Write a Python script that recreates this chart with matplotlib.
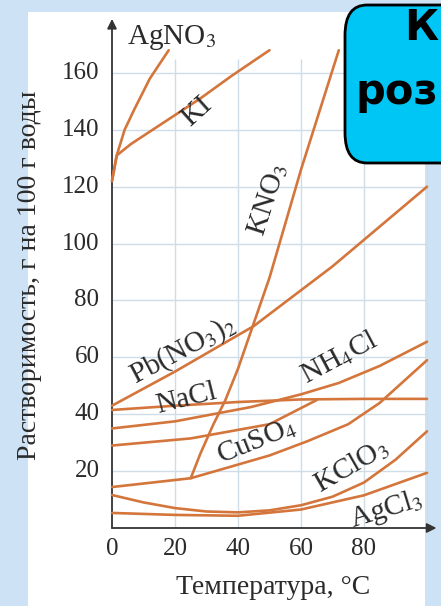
import matplotlib
matplotlib.use("Agg")
import matplotlib.pyplot as plt
from matplotlib.patches import Rectangle, FancyBboxPatch

# solubility curves, g per 100 g water
temp_agno3 = [0, 1.5, 4, 7, 12, 18]
sol_agno3 = [122, 131, 140, 147, 158, 168]
temp_ki = [0, 1.5, 6, 17, 28, 38, 50]
sol_ki = [122, 131, 135, 143, 151, 159, 168]
temp_kno3 = [25, 28, 32, 36, 40, 45, 50, 55, 60, 66, 72]
sol_kno3 = [17.5, 26, 36, 45, 56, 72, 88, 107, 126, 147, 168]
temp_pb = [0, 20, 45, 70, 100]
sol_pb = [43, 55, 71, 92, 120]
temp_nacl = [0, 20, 40, 60, 80, 100]
sol_nacl = [41.5, 43, 44.3, 45.2, 45.4, 45.4]
temp_nh4cl = [0, 20, 44, 60, 72, 85, 100]
sol_nh4cl = [35, 37.5, 42.5, 47, 51, 57, 65.5]
temp_extra = [0, 25, 50, 65]
sol_extra = [29, 31.5, 36.5, 45]
temp_cuso4 = [0, 25, 50, 62, 75, 85, 100]
sol_cuso4 = [14.4, 17.5, 25.5, 30.5, 36.5, 44, 59]
temp_kclo3 = [0, 10, 20, 30, 40, 50, 60, 70, 80, 90, 100]
sol_kclo3 = [11.6, 9, 7, 5.8, 5.5, 6.2, 8, 11, 16, 24, 34]
temp_agcl3 = [0, 20, 40, 60, 80, 100]
sol_agcl3 = [5.3, 4.6, 4.3, 6.5, 11.5, 19.4]

x_ticks = [0, 20, 40, 60, 80]
y_ticks = [20, 40, 60, 80, 100, 120, 140, 160]

plt.rcParams['font.family'] = ['Liberation Serif', 'DejaVu Serif']
plt.rcParams['mathtext.fontset'] = 'stix'

W, H = 441, 606
fig = plt.figure(figsize=(W / 100, H / 100), dpi=100, facecolor='#cde2f5')

# white slide panel behind the chart
fig.patches.append(Rectangle((28 / W, 0), (425 - 28) / W, (H - 12) / H,
                             transform=fig.transFigure, facecolor='white',
                             edgecolor='none', zorder=-5))

# axes placed so that 0..104 / 0..180 land where the picture has them
px_x, px_y = 3.15, 2.844
x0, y0 = 112, 528
ax = fig.add_axes([x0 / W, (H - y0) / H, 104 * px_x / W, 180 * px_y / H])
ax.set_xlim(0, 104)
ax.set_ylim(0, 180)
ax.patch.set_alpha(0)
for s in ax.spines.values():
    s.set_visible(False)
ax.set_xticks([])
ax.set_yticks([])

grid_c = '#cfdde9'
ax.hlines(y_ticks, 0, 100, color=grid_c, lw=1.0, zorder=1)
ax.vlines([20, 40, 60, 80, 100], 0, 165, color=grid_c, lw=1.0, zorder=1)

# axes arrows
ax.annotate('', xy=(0, 179), xytext=(0, 0),
            arrowprops=dict(arrowstyle='-|>', color='#333333', lw=1.3,
                            mutation_scale=14, shrinkA=0, shrinkB=0))
ax.annotate('', xy=(103, 0), xytext=(0, 0),
            arrowprops=dict(arrowstyle='-|>', color='#333333', lw=1.3,
                            mutation_scale=14, shrinkA=0, shrinkB=0))

for t in x_ticks:
    ax.text(t, -7.5, str(t), ha='center', va='center', fontsize=18, color='#2a2a2a')
for t in y_ticks:
    ax.text(-4, t, str(t), ha='right', va='center', fontsize=18, color='#2a2a2a')

ax.text(51, -21, 'Температура, °С', ha='center', va='center', fontsize=20, color='#2a2a2a')
fig.text(30 / W, 1 - 275 / H, 'Растворимость, г на 100 г воды', rotation=90,
         ha='center', va='center', fontsize=20, color='#2a2a2a')

line_c = '#d4763c'
curves = [
    (temp_agno3, sol_agno3), (temp_ki, sol_ki), (temp_kno3, sol_kno3),
    (temp_pb, sol_pb), (temp_nacl, sol_nacl), (temp_nh4cl, sol_nh4cl),
    (temp_extra, sol_extra), (temp_cuso4, sol_cuso4),
    (temp_kclo3, sol_kclo3), (temp_agcl3, sol_agcl3),
]
for tx, sy in curves:
    ax.plot(tx, sy, color=line_c, lw=1.9, solid_capstyle='round', zorder=3, clip_on=False)

lab = dict(ha='center', va='center', fontsize=21, color='#2a2a2a', zorder=4)
ax.text(19, 172.5, r'AgNO$_3$', **lab)
ax.text(27, 146.5, 'KI', rotation=42, **lab)
ax.text(49.5, 115.5, r'KNO$_3$', rotation=72, **lab)
ax.text(22.5, 62.5, r'Pb(NO$_3$)$_2$', rotation=28, **lab)
ax.text(23.5, 45.5, 'NaCl', rotation=14, **lab)
ax.text(72, 60, r'NH$_4$Cl', rotation=28, **lab)
ax.text(46, 30.5, r'CuSO$_4$', rotation=22, **lab)
ax.text(76, 22, r'KClO$_3$', rotation=30, **lab)
ax.text(87, 6.5, r'AgCl$_3$', rotation=17, **lab)

# cyan title box cut off at the right edge
box = FancyBboxPatch((345 / W, 1 - 163 / H), 200 / W, 158 / H,
                     boxstyle='round,pad=0,rounding_size=0.05',
                     transform=fig.transFigure, facecolor='#00c6f6',
                     edgecolor='black', lw=2, zorder=5)
fig.patches.append(box)
fig.text(438 / W, 1 - 28 / H, 'К', ha='right', va='center', fontsize=30,
         fontweight='bold', family='DejaVu Sans', color='black', zorder=6)
fig.text(438 / W, 1 - 92 / H, 'роз', ha='right', va='center', fontsize=30,
         fontweight='bold', family='DejaVu Sans', color='black', zorder=6)

fig.savefig('out.png', dpi=100, facecolor=fig.get_facecolor())
